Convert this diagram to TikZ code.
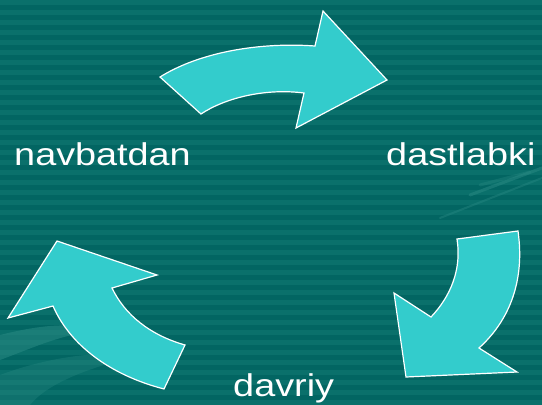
\documentclass[tikz,border=0pt]{standalone}
\usepackage{fontspec}
\setmainfont{Liberation Sans}
\definecolor{bgdark}{HTML}{026562}
\definecolor{bglight}{HTML}{0A706B}
\definecolor{arrowfill}{HTML}{33CCCC}
\definecolor{swoosh}{HTML}{2A8A84}
\tikzset{
  bigarrow/.style={fill=arrowfill, draw=white, line width=1.2pt, line join=miter},
  lbl/.style={text=white, font=\fontsize{31.5}{31.5}\selectfont, xscale=1.2, inner sep=0pt, anchor=base west},
}
\begin{document}
\begin{tikzpicture}[x=1pt,y=-1pt]
\useasboundingbox (0,0) rectangle (542,405);
\fill[bgdark] (0,0) rectangle (542,405);
\foreach \yy in {0,10,...,400} {
  \fill[bglight] (0,\yy) rectangle (542,\yy+5);
}
% background decorations
\fill[swoosh, opacity=0.55] (0,335) .. controls (40,325) and (70,322) .. (100,330) .. controls (60,335) and (40,345) .. (0,360) -- cycle;
\fill[swoosh, opacity=0.35] (0,375) .. controls (40,360) and (90,350) .. (140,355) .. controls (100,365) and (50,380) .. (30,405) -- (0,405) -- cycle;
\draw[swoosh, opacity=0.5, line width=3pt, line cap=round] (470,195) -- (542,168);
\draw[swoosh, opacity=0.4, line width=2pt, line cap=round] (440,218) -- (542,178);
\draw[swoosh, opacity=0.35, line width=3pt, line cap=round] (480,185) -- (530,172);

% arrows
\path[bigarrow] (160,77) .. controls (200,52) and (260,42) .. (315,46) -- (323,11) -- (387,80) -- (296,128) -- (304,93) .. controls (265,88) and (225,98) .. (201,114) -- cycle;
\path[bigarrow] (457,239) -- (518,231) .. controls (525,280) and (510,320) .. (479,348) -- (517,372) -- (406,377) -- (394,293) -- (431,317) .. controls (450,297) and (462,270) .. (457,239) -- cycle;
\path[bigarrow] (57,241) -- (157,275) -- (112,288) .. controls (125,315) and (150,335) .. (185,345) -- (164,389) .. controls (110,375) and (70,345) .. (53,306) -- (8,318) -- cycle;

% labels
\node[lbl] (t1) at (14,165) {navbatdan};
\node[lbl] (t2) at (386,165) {dastlabki};
\node[lbl] (t3) at (233,396) {davriy};
\end{tikzpicture}
\end{document}
